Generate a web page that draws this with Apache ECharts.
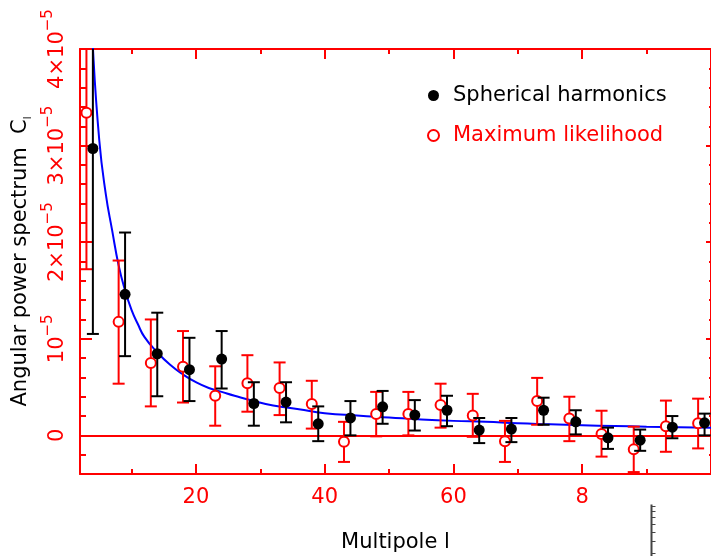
<!DOCTYPE html>
<html>
<head>
<meta charset="utf-8">
<script src="https://cdn.jsdelivr.net/npm/echarts@6/dist/echarts.min.js"></script>
<style>
  html, body { margin: 0; padding: 0; background: #fff; }
  #main { width: 711px; height: 556px; }
</style>
</head>
<body>
<div id="main"></div>
<script>
// values of C_l are in units of 1e-5
const shL = [4, 9, 14, 19, 24, 29, 34, 39, 44, 49, 54, 59, 64, 69, 74, 79, 84, 89, 94, 99];
const shC = [2.97, 1.46, 0.845, 0.68, 0.79, 0.33, 0.345, 0.12, 0.18, 0.295, 0.21, 0.26, 0.055, 0.065, 0.26, 0.14, -0.025, -0.05, 0.085, 0.13];
const shLow = [1.05, 0.82, 0.405, 0.355, 0.485, 0.10, 0.135, -0.06, 0.0, 0.12, 0.05, 0.095, -0.08, -0.07, 0.11, 0.01, -0.14, -0.16, -0.03, 0.0];
const shHigh = [4.89, 2.10, 1.27, 1.01, 1.08, 0.55, 0.55, 0.30, 0.355, 0.46, 0.365, 0.41, 0.18, 0.18, 0.39, 0.26, 0.08, 0.06, 0.20, 0.225];

const mlL = [3, 8, 13, 18, 23, 28, 33, 38, 43, 48, 53, 58, 63, 68, 73, 78, 83, 88, 93, 98];
const mlC = [3.34, 1.175, 0.75, 0.71, 0.41, 0.54, 0.49, 0.325, -0.065, 0.22, 0.22, 0.315, 0.205, -0.06, 0.355, 0.175, 0.015, -0.145, 0.095, 0.125];
const mlLow = [1.72, 0.535, 0.30, 0.34, 0.10, 0.245, 0.21, 0.07, -0.275, -0.01, 0.0, 0.08, -0.015, -0.275, 0.11, -0.06, -0.22, -0.38, -0.17, -0.135];
const mlHigh = [4.96, 1.81, 1.20, 1.08, 0.715, 0.83, 0.755, 0.565, 0.14, 0.45, 0.45, 0.535, 0.43, 0.15, 0.595, 0.40, 0.255, 0.09, 0.36, 0.38];

// fitted model curve
const curveL = [3.5, 4, 5, 6, 7, 8, 9, 10, 11, 12, 14, 16, 18, 20, 22, 24, 26, 29, 32, 36, 40, 45, 50, 55, 60, 65, 70, 75, 80, 85, 90, 95, 100];
const curveC = [4.9, 4.02, 3.05, 2.5, 2.12, 1.76, 1.5, 1.3, 1.15, 1.02, 0.86, 0.73, 0.63, 0.55, 0.49, 0.45, 0.41, 0.355, 0.31, 0.27, 0.23, 0.205, 0.185, 0.165, 0.15, 0.14, 0.125, 0.115, 0.105, 0.097, 0.09, 0.085, 0.08];

const xMajor = [20, 40, 60, 80, 100];
const xMinor = [10, 30, 50, 70, 90];
const xLabels = [20, 40, 60, 80];
const yMajor = [0, 1, 2, 3, 4];
const yMinor = [-0.2, 0.2, 0.4, 0.6, 0.8, 1.2, 1.4, 1.6, 1.8, 2.2, 2.4, 2.6, 2.8, 3.2, 3.4, 3.6, 3.8];

const RED = '#ff0000';
const FONT = 'DejaVu Sans';

const chart = echarts.init(document.getElementById('main'));

function errRender(color) {
  return function (params, api) {
    const x = api.value(0);
    const pLo = api.coord([x, api.value(1)]);
    const pHi = api.coord([x, api.value(2)]);
    const cs = params.coordSys;
    const top = cs.y, bottom = cs.y + cs.height;
    const y1 = Math.max(top, pHi[1]);
    const y2 = Math.min(bottom, pLo[1]);
    const st = { stroke: color, lineWidth: 2 };
    const kids = [{ type: 'line', shape: { x1: pLo[0], y1: y1, x2: pLo[0], y2: y2 }, style: st }];
    if (pHi[1] >= top) kids.push({ type: 'line', shape: { x1: pHi[0] - 6, y1: pHi[1], x2: pHi[0] + 6, y2: pHi[1] }, style: st });
    if (pLo[1] <= bottom) kids.push({ type: 'line', shape: { x1: pLo[0] - 6, y1: pLo[1], x2: pLo[0] + 6, y2: pLo[1] }, style: st });
    return { type: 'group', children: kids };
  };
}

function axLine(show) {
  return { show: show, onZero: false, lineStyle: { color: RED, width: 2 } };
}
function xAx(pos, ticks, len, showLine, labels) {
  return {
    type: 'value', position: pos, min: 2, max: 100,
    axisLine: axLine(showLine),
    axisTick: { show: true, inside: true, length: len, customValues: ticks, lineStyle: { color: RED, width: 2 } },
    axisLabel: labels ? {
      show: true, customValues: xLabels, color: RED, fontFamily: FONT, fontSize: 21, margin: 13,
      formatter: v => v === 80 ? '8' : String(v)
    } : { show: false },
    splitLine: { show: false }
  };
}
function yAx(pos, ticks, len, showLine, labels) {
  return {
    type: 'value', position: pos, min: -0.4, max: 4,
    axisLine: axLine(showLine),
    axisTick: { show: true, inside: true, length: len, customValues: ticks, lineStyle: { color: RED, width: 2 } },
    axisLabel: labels ? {
      show: true, customValues: yMajor, rotate: 90, margin: 5,
      formatter: v => v === 0 ? '{b|0}' : v === 1 ? '{b|10}{s|−5}' : '{b|' + v + '×10}{s|−5}',
      rich: {
        b: { color: RED, fontFamily: FONT, fontSize: 21, lineHeight: 34 },
        s: { color: RED, fontFamily: FONT, fontSize: 15, verticalAlign: 'top' }
      }
    } : { show: false },
    splitLine: { show: false }
  };
}

const xMain = xAx('bottom', xMajor, 10, true, true);
xMain.name = 'Multipole l';
xMain.nameLocation = 'middle';
xMain.nameGap = 58;
xMain.nameTextStyle = { color: '#000', fontFamily: FONT, fontSize: 21 };

const yMain = yAx('left', yMajor, 12, true, true);
yMain.name = '{a|Angular power spectrum  C}{l|l}';
yMain.nameLocation = 'middle';
yMain.nameRotate = 90;
yMain.nameGap = 39;
yMain.nameTextStyle = {
  rich: {
    a: { color: '#000', fontFamily: FONT, fontSize: 21, lineHeight: 26 },
    l: { color: '#000', fontFamily: FONT, fontSize: 10, verticalAlign: 'bottom' }
  }
};

const option = {
  animation: false,
  backgroundColor: '#fff',
  grid: { left: 80, right: 0, top: 49, bottom: 82, containLabel: false, outerBoundsMode: 'none' },
  xAxis: [
    xMain,
    xAx('bottom', xMinor, 5, false, false),
    xAx('top', xMajor, 10, true, false),
    xAx('top', xMinor, 5, false, false)
  ],
  yAxis: [
    yMain,
    yAx('left', yMinor, 6, false, false),
    yAx('right', yMajor, 5, true, false),
    yAx('right', yMinor, 2, false, false)
  ],
  legend: {
    orient: 'vertical', left: 422, top: 80, itemGap: 19,
    itemWidth: 11, itemHeight: 11,
    textStyle: { fontFamily: FONT, fontSize: 21, padding: [0, 0, 0, 9] },
    data: [
      { name: 'Spherical harmonics', icon: 'circle', itemStyle: { color: '#000', opacity: 1 }, textStyle: { color: '#000' } },
      { name: 'Maximum likelihood', icon: 'emptyCircle', textStyle: { color: RED } }
    ]
  },
  series: [
    {
      type: 'line', name: 'model', data: curveL.map((l, i) => [l, curveC[i]]),
      smooth: true, showSymbol: false, clip: true,
      lineStyle: { color: '#0000ff', width: 2 }, z: 2,
      markLine: {
        silent: true, symbol: 'none', label: { show: false },
        lineStyle: { color: RED, width: 2, type: 'solid' },
        data: [{ yAxis: 0 }]
      }
    },
    {
      type: 'custom', name: 'mlErr', renderItem: errRender(RED), z: 3,
      encode: { x: 0, y: [1, 2] },
      data: mlL.map((l, i) => [l, mlLow[i], mlHigh[i]])
    },
    {
      type: 'scatter', name: 'Maximum likelihood', symbol: 'emptyCircle', symbolSize: 10, z: 4,
      itemStyle: { color: RED, borderColor: RED, borderWidth: 1, opacity: 1 },
      data: mlL.map((l, i) => [l, mlC[i]])
    },
    {
      type: 'custom', name: 'shErr', renderItem: errRender('#000'), z: 5,
      encode: { x: 0, y: [1, 2] },
      data: shL.map((l, i) => [l, shLow[i], shHigh[i]])
    },
    {
      type: 'scatter', name: 'Spherical harmonics', symbol: 'circle', symbolSize: 11, z: 6,
      itemStyle: { color: '#000', opacity: 1 },
      data: shL.map((l, i) => [l, shC[i]])
    }
  ],
  graphic: [{
    type: 'group', left: 649, top: 502,
    children: [
      { type: 'line', shape: { x1: 1, y1: 0, x2: 1, y2: 54 }, style: { stroke: '#444', lineWidth: 2 } },
      { type: 'line', shape: { x1: 1, y1: 2, x2: 5, y2: 2 }, style: { stroke: '#444', lineWidth: 1 } },
      { type: 'line', shape: { x1: 1, y1: 7, x2: 5, y2: 7 }, style: { stroke: '#444', lineWidth: 1 } },
      { type: 'line', shape: { x1: 1, y1: 13, x2: 5, y2: 13 }, style: { stroke: '#444', lineWidth: 1 } },
      { type: 'line', shape: { x1: 1, y1: 20, x2: 5, y2: 20 }, style: { stroke: '#444', lineWidth: 1 } },
      { type: 'line', shape: { x1: 1, y1: 28, x2: 5, y2: 28 }, style: { stroke: '#444', lineWidth: 1 } },
      { type: 'line', shape: { x1: 1, y1: 37, x2: 5, y2: 37 }, style: { stroke: '#444', lineWidth: 1 } },
      { type: 'line', shape: { x1: 1, y1: 49, x2: 5, y2: 49 }, style: { stroke: '#444', lineWidth: 1 } }
    ]
  }]
};

chart.setOption(option);
</script>
</body>
</html>
